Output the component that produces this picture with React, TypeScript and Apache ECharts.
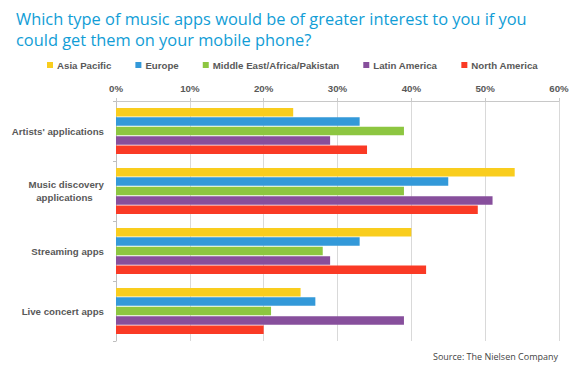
import React, { useEffect, useRef } from "react";
import * as echarts from "echarts";

const categories = ["Artists' applications", "Music discovery\napplications", "Streaming apps", "Live concert apps"];
const seriesNames = ["Asia Pacific", "Europe", "Middle East/Africa/Pakistan", "Latin America", "North America"];
const asiaPacific = [24, 54, 40, 25];
const europe = [33, 45, 33, 27];
const middleEast = [39, 39, 28, 21];
const latinAmerica = [29, 51, 29, 39];
const northAmerica = [34, 49, 42, 20];
const colors = ["#f9cd1e", "#3399d9", "#8dc641", "#874f9c", "#fa3a25"];
const xTicks = { min: 0, max: 60, interval: 10 };

export default function App() {
  const ref = useRef<HTMLDivElement>(null);
  useEffect(() => {
    if (!ref.current) return;
    const chart = echarts.init(ref.current, null, { renderer: "svg" });
    const values = [asiaPacific, europe, middleEast, latinAmerica, northAmerica];
    const labelColor = "#595959";
    const fs = 9.7;
    chart.setOption({
      animation: false,
      backgroundColor: "#ffffff",
      color: colors,
      title: [
        {
          text: "Which type of music apps would be of greater interest to you if you\ncould get them on your mobile phone?",
          left: 11,
          top: 3,
          textStyle: { fontFamily: "Open Sans", fontSize: 16.4, fontWeight: "normal", color: "#119dd6", lineHeight: 21 },
        },
        {
          text: "Source: The Nielsen Company",
          right: 12,
          top: 347,
          textStyle: { fontFamily: "Open Sans", fontSize: 9, fontWeight: "normal", color: "#444444" },
        },
      ],
      legend: {
        left: 42,
        top: 55,
        icon: "rect",
        itemWidth: 6,
        itemHeight: 6,
        itemGap: 24,
        data: seriesNames,
        textStyle: { fontFamily: "Liberation Sans", fontSize: fs, fontWeight: "bold", color: labelColor, padding: [0, 0, 0, -1] },
      },
      grid: { left: 116, right: 16, top: 101, bottom: 29, containLabel: false },
      xAxis: {
        type: "value",
        position: "top",
        min: xTicks.min,
        max: xTicks.max,
        interval: xTicks.interval,
        axisLine: { show: true, lineStyle: { color: "#c8c8c8" } },
        axisTick: { show: true, length: 3, lineStyle: { color: "#c8c8c8" } },
        splitLine: { show: true, lineStyle: { color: "#d9d9d9" } },
        axisLabel: {
          formatter: "{value}%",
          margin: 8,
          fontFamily: "Liberation Sans",
          fontSize: fs,
          fontWeight: "bold",
          color: labelColor,
        },
      },
      yAxis: {
        type: "category",
        inverse: true,
        data: categories,
        axisLine: { show: true, lineStyle: { color: "#bfbfbf" } },
        axisTick: { show: true, length: 3, lineStyle: { color: "#bfbfbf" } },
        axisLabel: {
          margin: 12,
          fontFamily: "Liberation Sans",
          fontSize: fs,
          fontWeight: "bold",
          color: labelColor,
          lineHeight: 13,
          formatter: (v: string) => {
            if (v.indexOf("\n") >= 0) {
              const parts = v.split("\n");
              return "{a|" + parts[0] + "}\n{b|" + parts[1] + "}";
            }
            return v;
          },
          rich: {
            a: { fontFamily: "Liberation Sans", fontSize: fs, fontWeight: "bold", color: labelColor, lineHeight: 13 },
            b: { fontFamily: "Liberation Sans", fontSize: fs, fontWeight: "bold", color: labelColor, lineHeight: 13, width: 79, align: "center" },
          },
        },
      },
      series: seriesNames.map((name, i) => ({
        name,
        type: "bar",
        data: values[i],
        barCategoryGap: "23%",
        barGap: "10%",
        itemStyle: { color: colors[i] },
      })),
    });
    return () => chart.dispose();
  }, []);
  return <div ref={ref} style={{ width: 575, height: 370, position: "absolute", left: 0, top: 0 }} />;
}
